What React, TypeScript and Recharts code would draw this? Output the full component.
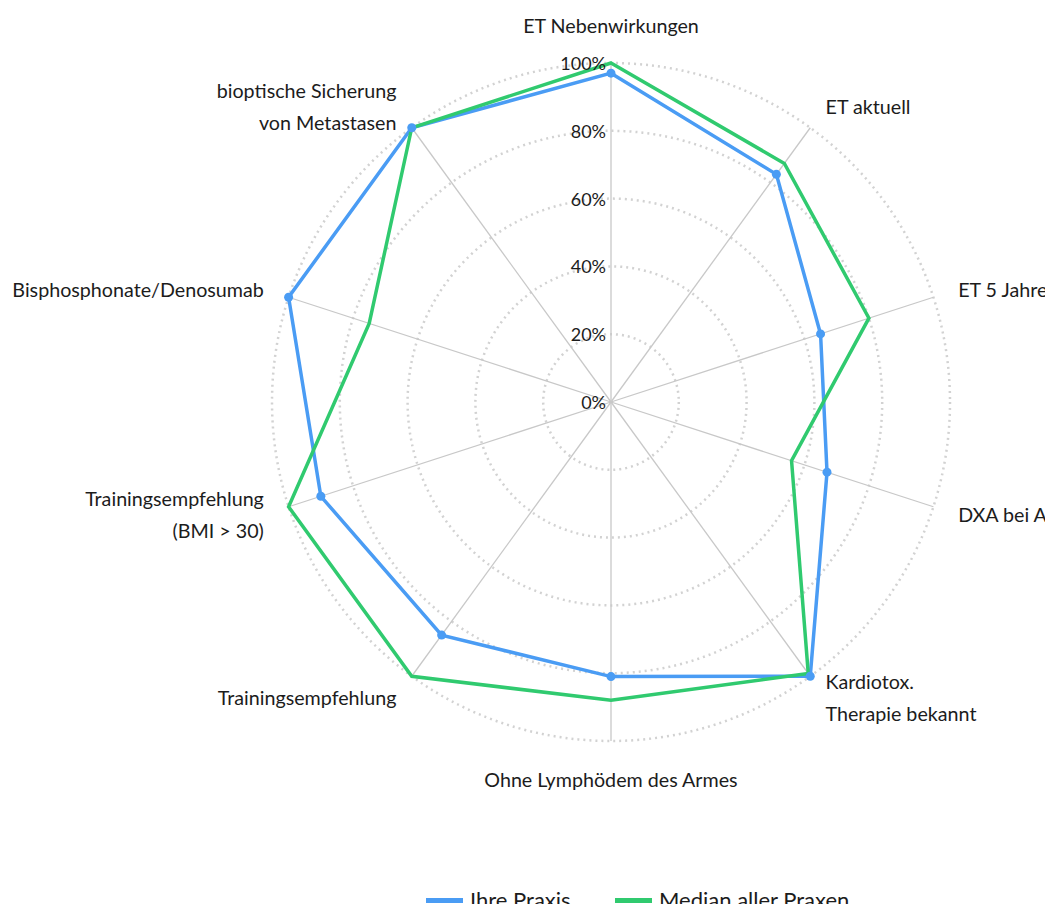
import React from "react";
import {
  RadarChart,
  Radar,
  PolarGrid,
  PolarAngleAxis,
  PolarRadiusAxis,
  Legend,
} from "recharts";

const categories = [
  "ET Nebenwirkungen",
  "ET aktuell",
  "ET 5 Jahre",
  "DXA bei AI",
  "Kardiotox.\nTherapie bekannt",
  "Ohne Lymphödem des Armes",
  "Trainingsempfehlung",
  "Trainingsempfehlung\n(BMI > 30)",
  "Bisphosphonate/Denosumab",
  "bioptische Sicherung\nvon Metastasen",
];

const ihrePraxis = [97, 83, 65, 67, 100, 81, 85, 90, 100, 100];
const medianAllerPraxen = [100, 87, 80, 56, 99, 88, 100, 100, 75, 100];

const radiusTicks = [0, 20, 40, 60, 80, 100];

const SERIES_BLUE = "Ihre Praxis";
const SERIES_GREEN = "Median aller Praxen";
const BLUE = "#4A9CF4";
const GREEN = "#30CA6F";

const data = categories.map((c, i) => ({
  category: c,
  blue: ihrePraxis[i],
  green: medianAllerPraxen[i],
}));

const W = 1053;
const H = 912;
const CX = 611;
const CY = 402;
const R = 339;
const LABEL_R = 365;
const FONT = "Lato, 'Open Sans', sans-serif";

const AngleTick = (props: any) => {
  const { x, y, payload } = props;
  const dx = x - CX;
  const dy = y - CY;
  const len = Math.sqrt(dx * dx + dy * dy) || 1;
  const cos = dx / len;
  const sin = dy / len;
  let px = CX + LABEL_R * cos;
  let py = CY + LABEL_R * sin;
  let anchor: "start" | "middle" | "end" = "middle";
  if (Math.abs(cos) < 0.1) {
    anchor = "middle";
    py += sin < 0 ? -12 : 12;
  } else if (cos > 0) {
    anchor = "start";
  } else {
    anchor = "end";
  }
  const lines = String(payload.value).split("\n");
  const lh = 32;
  return (
    <text
      textAnchor={anchor}
      fontFamily={FONT}
      fontSize={19.7}
      fill="#1c1c1c"
    >
      {lines.map((l, i) => (
        <tspan
          key={i}
          x={px}
          y={py + (i - (lines.length - 1) / 2) * lh}
          dominantBaseline="central"
        >
          {l}
        </tspan>
      ))}
    </text>
  );
};

const RadiusTick = (props: any) => {
  const { x, y, payload } = props;
  return (
    <text
      x={x - 5}
      y={y}
      textAnchor="end"
      dominantBaseline="central"
      fontFamily={FONT}
      fontSize={18}
      fill="#1c1c1c"
    >
      {`${payload.value}%`}
    </text>
  );
};

const BlueDot = (props: any) => {
  const { cx, cy } = props;
  if (cx == null || cy == null) return null;
  return <circle cx={cx} cy={cy} r={4.5} fill={BLUE} stroke="none" />;
};

const legendItems = [
  { name: SERIES_BLUE, color: BLUE, width: 189 },
  { name: SERIES_GREEN, color: GREEN, width: 260 },
];

const renderLegend = () => (
  <div
    style={{
      display: "flex",
      alignItems: "center",
      paddingLeft: 426,
      height: 22,
      fontFamily: FONT,
      fontSize: 22,
      color: "#1c1c1c",
    }}
  >
    {legendItems.map((it) => (
      <div
        key={it.name}
        style={{ display: "flex", alignItems: "center", width: it.width, height: 22, lineHeight: "22px" }}
      >
        <span
          style={{
            display: "inline-block",
            width: 37,
            height: 5,
            background: it.color,
            marginRight: 7,
          }}
        />
        <span style={{ whiteSpace: "nowrap" }}>{it.name}</span>
      </div>
    ))}
  </div>
);

export default function App() {
  return (
    <div style={{ width: W, height: H, margin: -8, background: "#fff", position: "relative" }}>
      <RadarChart
        width={W}
        height={H}
        data={data}
        cx={CX}
        cy={CY}
        outerRadius={R}
        margin={{ top: 0, right: 0, bottom: 0, left: 0 }}
      >
        <PolarGrid
          gridType="circle"
          radialLines={false}
          stroke="#d2d2d2"
          strokeWidth={2.5}
          strokeDasharray="2 4"
        />
        <PolarGrid
          gridType="circle"
          radialLines={true}
          polarRadius={[]}
          stroke="#c8c8c8"
          strokeWidth={1.3}
        />
        <PolarAngleAxis
          dataKey="category"
          tick={<AngleTick />}
          axisLine={false}
          tickLine={false}
        />
        <PolarRadiusAxis
          angle={90}
          domain={[0, 100]}
          ticks={radiusTicks}
          tick={<RadiusTick />}
          axisLine={false}
          tickLine={false}
        />
        <Radar
          name={SERIES_BLUE}
          dataKey="blue"
          stroke={BLUE}
          strokeWidth={3.5}
          fill="none"
          fillOpacity={0}
          dot={<BlueDot />}
          isAnimationActive={false}
        />
        <Radar
          name={SERIES_GREEN}
          dataKey="green"
          stroke={GREEN}
          strokeWidth={3.5}
          fill="none"
          fillOpacity={0}
          dot={false}
          isAnimationActive={false}
        />
        <Legend
          content={renderLegend}
          wrapperStyle={{ position: "absolute", left: 0, top: 889, width: 900, height: 22 }}
        />
      </RadarChart>
    </div>
  );
}
